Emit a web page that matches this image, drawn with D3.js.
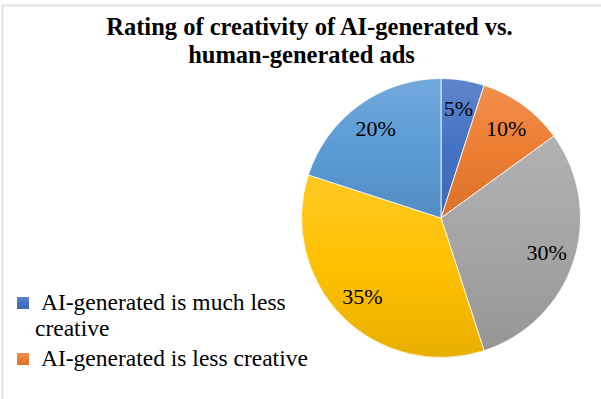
<!DOCTYPE html>
<html>
<head>
<meta charset="utf-8">
<script src="https://cdn.jsdelivr.net/npm/d3@7"></script>
<style>
  html, body { margin: 0; padding: 0; background: #fff; }
  svg { display: block; }
</style>
</head>
<body>
<svg id="chart" width="601" height="399"></svg>
<script>
const titleLines = ["Rating of creativity of AI-generated vs.", "human-generated ads"];
const categories = [
  "AI-generated is much less creative",
  "AI-generated is less creative",
  "Equally creative",
  "AI-generated is more creative",
  "AI-generated is much more creative"
];
const values = [5, 10, 30, 35, 20];
const colors = ["#4472C4", "#ED7D31", "#A5A5A5", "#FFC000", "#5B9BD5"];
const legendLines = [["AI-generated is much less", "creative"], ["AI-generated is less creative"]];

const svg = d3.select("#chart");
const W = 601, H = 399;
const serif = '"Liberation Serif"';

svg.append("rect").attr("x", 2.5).attr("y", 5.5).attr("width", W + 20).attr("height", H + 20)
  .attr("fill", "none").attr("stroke", "#dde2ea").attr("stroke-width", 2);

const title = svg.append("g");
const titleX = [309.5, 301.5];
titleLines.forEach((t, i) => {
  title.append("text").attr("x", titleX[i]).attr("y", 35 + i * 28)
    .attr("text-anchor", "middle").style("font-family", serif)
    .attr("font-weight", "bold").attr("font-size", 24.5).attr("fill", "#000").text(t);
});

const defs = svg.append("defs");
colors.forEach((c, i) => {
  const g = defs.append("linearGradient").attr("id", "grad" + i)
    .attr("x1", 0).attr("y1", 0).attr("x2", 0).attr("y2", 1);
  g.append("stop").attr("offset", "0%").attr("stop-color", d3.interpolateRgb(c, "#fff")(0.14));
  g.append("stop").attr("offset", "50%").attr("stop-color", c);
  g.append("stop").attr("offset", "100%").attr("stop-color", d3.interpolateRgb(c, "#000")(0.09));
});

const cx = 441, cy = 218, R = 139.5;
const pie = d3.pie().sort(null).value(d => d);
const arcs = pie(values);
const arc = d3.arc().innerRadius(0).outerRadius(R);
const labelArc = d3.arc().innerRadius(111).outerRadius(111);
const pg = svg.append("g").attr("transform", `translate(${cx},${cy})`);
pg.selectAll("path").data(arcs).join("path")
  .attr("d", arc)
  .attr("fill", (d, i) => `url(#grad${i})`)
  .attr("stroke", "#fff").attr("stroke-width", 0.8);
const fmt = d3.format(".0%");
const total = d3.sum(values);
pg.selectAll("text").data(arcs).join("text")
  .attr("transform", d => `translate(${labelArc.centroid(d)})`)
  .attr("text-anchor", "middle").attr("dy", "0.35em")
  .style("font-family", serif).attr("font-size", 22).attr("fill", "#000")
  .text(d => fmt(d.value / total));

const lg = svg.append("g");
let y = 310;
legendLines.forEach((lines, i) => {
  lg.append("rect").attr("x", 17).attr("y", y - 13).attr("width", 12).attr("height", 12)
    .attr("fill", `url(#grad${i})`);
  lines.forEach((t, j) => {
    lg.append("text").attr("x", j === 0 ? 41 : 35).attr("y", y + j * 26)
      .style("font-family", serif).attr("font-size", 23.5).attr("fill", "#000").text(t);
  });
  y += 56;
});
</script>
</body>
</html>
